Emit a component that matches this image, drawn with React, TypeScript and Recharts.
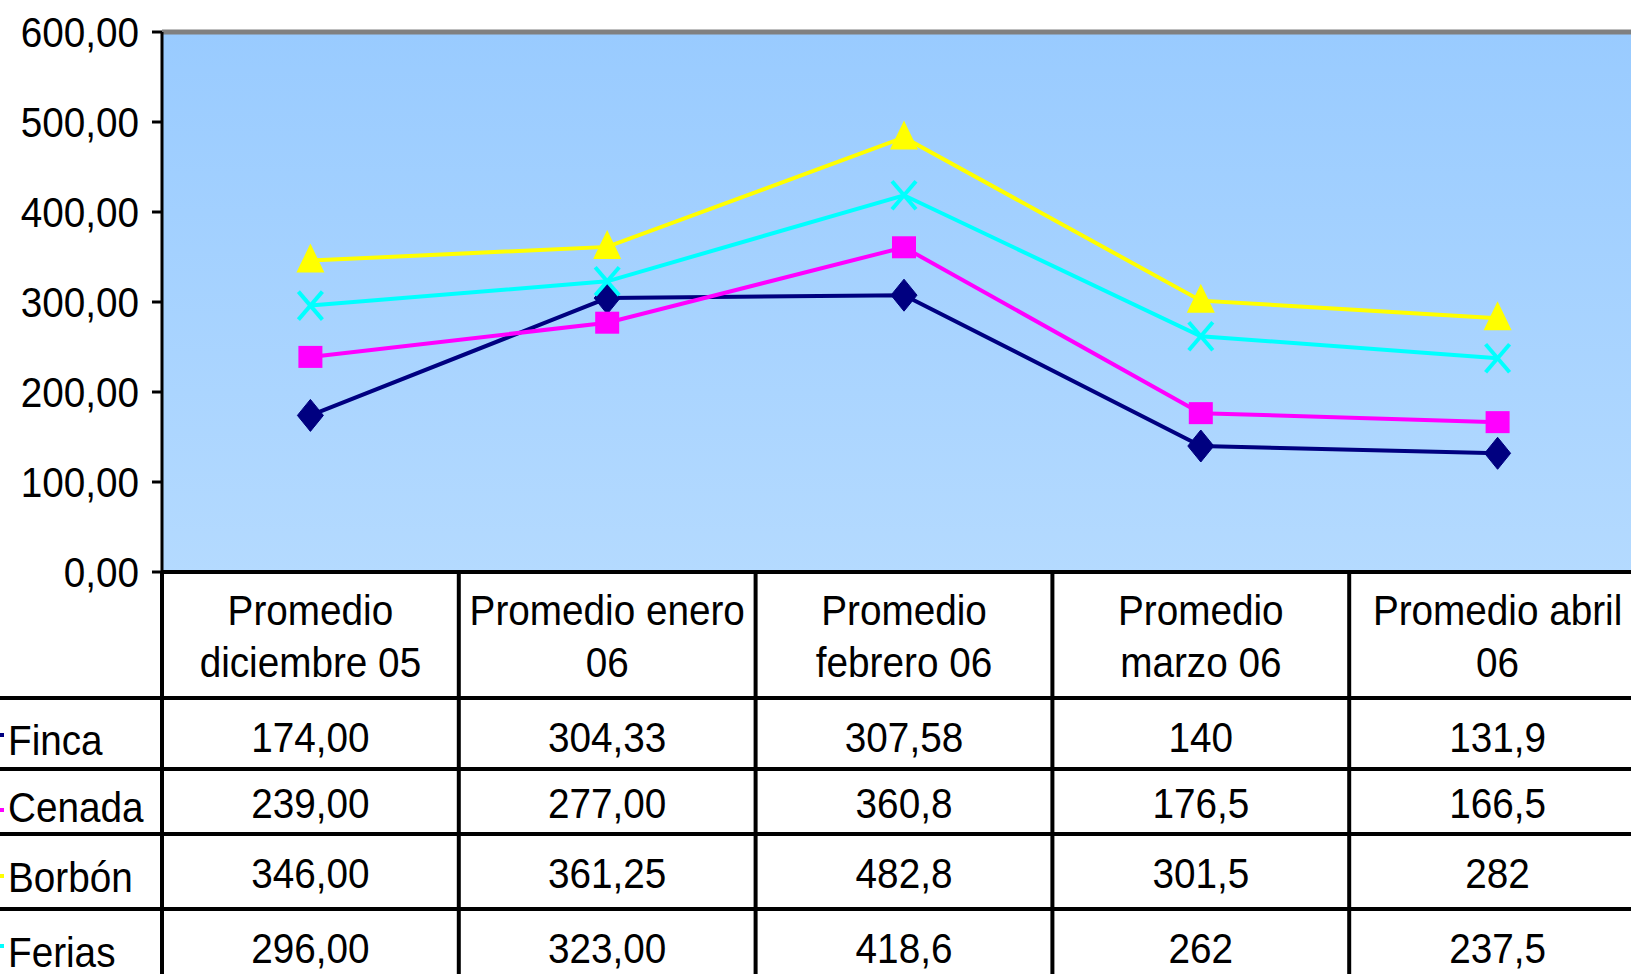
import React from 'react';
import { LineChart, Line, XAxis, YAxis, CartesianGrid, ReferenceLine } from 'recharts';

const categories = [
  'Promedio\ndiciembre 05',
  'Promedio enero\n06',
  'Promedio\nfebrero 06',
  'Promedio\nmarzo 06',
  'Promedio abril\n06',
];
const seriesNames = ['Finca', 'Cenada', 'Borbón', 'Ferias'];
const finca = [174, 304.33, 307.58, 140, 131.9];
const cenada = [239, 277, 360.8, 176.5, 166.5];
const borbon = [346, 361.25, 482.8, 301.5, 282];
const ferias = [296, 323, 418.6, 262, 237.5];
const columnDecimals: (number | null)[] = [2, 2, null, null, null];
const yTicks = [0, 100, 200, 300, 400, 500, 600];
const seriesColors = ['#000080', '#FF00FF', '#FFFF00', '#00FFFF'];

const seriesValues = [finca, cenada, borbon, ferias];
const data = categories.map((c, i) => ({
  cat: c,
  Finca: finca[i],
  Cenada: cenada[i],
  Borbon: borbon[i],
  Ferias: ferias[i],
}));

const FONT = "'Liberation Sans', Arial, sans-serif";
const FS = 43;
const SX = 0.9;

const CHART_W = 1646;
const PLOT_LEFT = 162;
const PLOT_TOP = 32;
const PLOT_H = 540;
const AXIS_H = 126;
const CHART_H = PLOT_TOP + PLOT_H + AXIS_H;
const COL_W = (CHART_W - PLOT_LEFT) / categories.length;
const TABLE_TOP = PLOT_TOP + PLOT_H;
const rowTops = [698, 769, 834, 909];
const labelBaselines = [755, 822, 892, 967];
const valueBaselines = [752, 818, 888, 963];
const keyYs = [735, 810, 876, 946];

const fmt = (v: number, col: number) => {
  const d = columnDecimals[col];
  const s = d == null ? String(v) : v.toFixed(d);
  return s.replace('.', ',');
};

const YTick = (props: any) => {
  const { x, y, payload } = props;
  return (
    <text
      transform={`translate(${x},${y + 15}) scale(${SX},1)`}
      textAnchor="end"
      fontSize={FS}
      fontFamily={FONT}
      fill="#000"
    >
      {Number(payload.value).toFixed(2).replace('.', ',')}
    </text>
  );
};

const HeaderTick = (props: any) => {
  const { x, y, payload } = props;
  const lines = String(payload.value).split('\n');
  return (
    <g>
      {lines.map((l, i) => (
        <text
          key={i}
          transform={`translate(${x},${y + 53 + 52 * i}) scale(${SX},1)`}
          textAnchor="middle"
          fontSize={FS}
          fontFamily={FONT}
          fill="#000"
        >
          {l}
        </text>
      ))}
    </g>
  );
};

const Diamond = (props: any) => {
  const { cx, cy, index } = props;
  if (cx == null || cy == null) return <g key={`dm-${index}`} />;
  return (
    <polygon
      key={`dm-${index}`}
      points={`${cx},${cy - 16} ${cx + 13},${cy} ${cx},${cy + 16} ${cx - 13},${cy}`}
      fill="#000080"
      stroke="#000080"
      strokeWidth={1}
    />
  );
};

const Square = (props: any) => {
  const { cx, cy, index } = props;
  if (cx == null || cy == null) return <g key={`sq-${index}`} />;
  return <rect key={`sq-${index}`} x={cx - 12} y={cy - 11} width={24} height={22} fill="#FF00FF" />;
};

const Triangle = (props: any) => {
  const { cx, cy, index } = props;
  if (cx == null || cy == null) return <g key={`tr-${index}`} />;
  return (
    <polygon
      key={`tr-${index}`}
      points={`${cx},${cy - 17} ${cx + 14},${cy + 12} ${cx - 14},${cy + 12}`}
      fill="#FFFF00"
    />
  );
};

const XMark = (props: any) => {
  const { cx, cy, index } = props;
  if (cx == null || cy == null) return <g key={`xm-${index}`} />;
  return (
    <g key={`xm-${index}`}>
      <line x1={cx - 12} y1={cy - 14} x2={cx + 12} y2={cy + 14} stroke="#00FFFF" strokeWidth={4} />
      <line x1={cx + 12} y1={cy - 14} x2={cx - 12} y2={cy + 14} stroke="#00FFFF" strokeWidth={4} />
    </g>
  );
};

export default function App() {
  return (
    <div
      style={{
        position: 'fixed',
        left: 0,
        top: 0,
        width: 1631,
        height: 974,
        overflow: 'hidden',
        background: '#fff',
      }}
    >
      <div style={{ position: 'absolute', left: 0, top: 0 }}>
        <LineChart
          width={CHART_W}
          height={CHART_H}
          data={data}
          margin={{ top: PLOT_TOP, right: 0, bottom: 0, left: 0 }}
        >
          <defs>
            <linearGradient id="plotBg" x1="0" y1="0" x2="0" y2="1">
              <stop offset="0%" stopColor="#99CBFF" />
              <stop offset="100%" stopColor="#B4DAFF" />
            </linearGradient>
          </defs>
          <CartesianGrid fill="url(#plotBg)" fillOpacity={1} stroke="none" horizontal={false} vertical={false} />
          <XAxis
            dataKey="cat"
            type="category"
            height={AXIS_H}
            padding={{ left: COL_W / 2, right: COL_W / 2 }}
            axisLine={{ stroke: '#000', strokeWidth: 4 }}
            tickLine={false}
            tickSize={0}
            tickMargin={0}
            interval={0}
            tick={<HeaderTick />}
          />
          <YAxis
            type="number"
            domain={[0, 600]}
            ticks={yTicks}
            interval={0}
            width={PLOT_LEFT}
            axisLine={{ stroke: '#000', strokeWidth: 3 }}
            tickLine={{ stroke: '#000', strokeWidth: 3 }}
            tickSize={10}
            tickMargin={13}
            tick={<YTick />}
          />
          <ReferenceLine y={600} stroke="#808080" strokeWidth={5} />
          <Line dataKey="Finca" stroke={seriesColors[0]} strokeWidth={4} dot={Diamond} isAnimationActive={false} />
          <Line dataKey="Cenada" stroke={seriesColors[1]} strokeWidth={4} dot={Square} isAnimationActive={false} />
          <Line dataKey="Borbon" stroke={seriesColors[2]} strokeWidth={4} dot={Triangle} isAnimationActive={false} />
          <Line dataKey="Ferias" stroke={seriesColors[3]} strokeWidth={4} dot={XMark} isAnimationActive={false} />
        </LineChart>
      </div>
      <svg
        width={CHART_W}
        height={974}
        style={{ position: 'absolute', left: 0, top: 0, pointerEvents: 'none' }}
      >
        {rowTops.map((y, i) => (
          <line key={`h${i}`} x1={0} y1={y} x2={CHART_W} y2={y} stroke="#000" strokeWidth={4} />
        ))}
        {categories.map((_, i) => (
          <line
            key={`v${i}`}
            x1={PLOT_LEFT + COL_W * i}
            y1={TABLE_TOP}
            x2={PLOT_LEFT + COL_W * i}
            y2={974}
            stroke="#000"
            strokeWidth={4}
          />
        ))}
        {seriesNames.map((n, r) => (
          <g key={`r${r}`}>
            <rect x={0} y={keyYs[r] - 2} width={4} height={4} fill={seriesColors[r]} />
            <text
              transform={`translate(8,${labelBaselines[r]}) scale(${SX},1)`}
              fontSize={FS}
              fontFamily={FONT}
              fill="#000"
            >
              {n}
            </text>
            {seriesValues[r].map((v, c) => (
              <text
                key={c}
                transform={`translate(${PLOT_LEFT + COL_W * (c + 0.5)},${valueBaselines[r]}) scale(${SX},1)`}
                textAnchor="middle"
                fontSize={FS}
                fontFamily={FONT}
                fill="#000"
              >
                {fmt(v, c)}
              </text>
            ))}
          </g>
        ))}
      </svg>
    </div>
  );
}
